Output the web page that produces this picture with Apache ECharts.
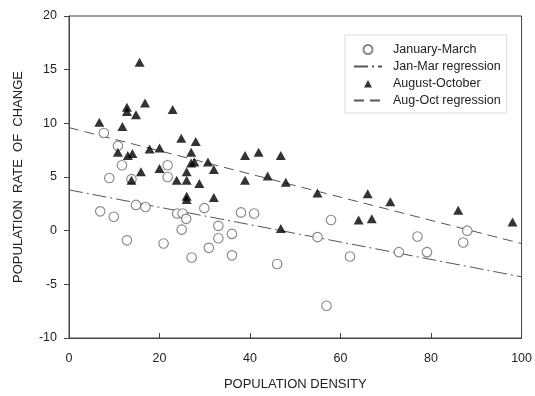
<!DOCTYPE html>
<html>
<head>
<meta charset="utf-8">
<script src="https://cdn.jsdelivr.net/npm/echarts@6/dist/echarts.min.js"></script>
<style>
  html, body { margin: 0; padding: 0; background: #fff; }
  #chart { width: 535px; height: 396px; }
</style>
</head>
<body>
<div id="chart"></div>
<script>
// values: [population density, rate of change]
const janMarPoints = [
  [7.7, 9.1], [10.8, 7.9], [11.7, 6.1], [21.8, 6.1], [8.9, 4.9], [21.8, 5.0],
  [13.8, 4.8], [6.9, 1.8], [9.9, 1.3], [14.8, 2.4], [16.9, 2.2], [23.9, 1.6],
  [25.1, 1.6], [25.9, 1.1], [29.9, 2.1], [38.0, 1.7], [40.9, 1.6], [24.9, 0.1],
  [33.0, 0.45], [33.0, -0.7], [36.0, -0.3], [12.8, -0.9], [20.9, -1.2], [30.9, -1.6],
  [36.0, -2.3], [27.1, -2.5], [46.0, -3.1], [57.9, 1.0], [54.9, -0.6], [62.1, -2.4],
  [56.9, -7.0], [72.9, -2.0], [77.0, -0.55], [79.1, -2.0], [88.0, 0.0], [87.1, -1.1]
];
const augOctPoints = [
  [15.6, 15.7], [16.8, 11.9], [12.8, 11.5], [12.8, 11.1], [14.8, 10.8], [22.9, 11.3],
  [6.7, 10.1], [11.8, 9.7], [24.8, 8.6], [28.0, 8.3], [17.8, 7.6], [20.0, 7.7],
  [10.8, 7.3], [13.0, 7.0], [14.0, 7.2], [27.0, 7.3], [27.0, 6.3], [27.7, 6.4],
  [30.7, 6.4], [32.0, 5.7], [20.0, 5.8], [15.9, 5.5], [26.0, 5.5], [13.8, 4.7],
  [23.8, 4.7], [26.0, 4.7], [28.8, 4.4], [26.0, 3.2], [26.0, 2.9], [32.0, 3.1],
  [38.9, 7.0], [41.9, 7.3], [46.8, 7.0], [38.9, 4.7], [43.9, 5.1], [47.9, 4.5],
  [54.9, 3.5], [66.0, 3.45], [71.0, 2.7], [64.0, 1.0], [66.9, 1.1], [86.0, 1.9],
  [98.0, 0.8], [46.8, 0.2]
];
// regression lines, end points at density 0 and 100
const janMarFit = [[0, 3.8], [100, -4.3]];
const augOctFit = [[0, 9.6], [100, -1.2]];

const seriesNames = ['January-March', 'Jan-Mar regression', 'August-October', 'Aug-Oct regression'];
const xTicks = { min: 0, max: 100, interval: 20 };
const yTicks = { min: -10, max: 20, interval: 5 };

const font = '"Liberation Sans", Arial, sans-serif';
const ink = '#222';
const hidden = { color: 'rgba(0,0,0,0)', borderWidth: 0, opacity: 0 };
// small triangle inside the 28x9 legend icon box (the move-tos pin the box size)
const legendTriangle = 'path://M0,0 M28,9 M14,1 L18,8.5 L10,8.5 Z';

const chart = echarts.init(document.getElementById('chart'), null, { renderer: 'canvas' });

chart.setOption({
  animation: false,
  backgroundColor: '#fff',
  textStyle: { fontFamily: font, color: ink },
  grid: {
    left: 69, right: 12, top: 16, bottom: 53,
    show: true, borderColor: '#444', borderWidth: 1, backgroundColor: 'transparent'
  },
  legend: {
    orient: 'vertical',
    left: 345, top: 35,
    width: 172,
    padding: [8, 6, 6, 8],
    borderColor: '#dadada', borderWidth: 1,
    itemWidth: 28, itemHeight: 9, itemGap: 4,
    textStyle: { fontFamily: font, fontSize: 12.5, color: ink, padding: [0, 0, 0, 6] },
    data: [
      { name: seriesNames[0], icon: 'circle' },
      { name: seriesNames[1], itemStyle: hidden },
      { name: seriesNames[2], icon: legendTriangle },
      { name: seriesNames[3], itemStyle: hidden }
    ]
  },
  xAxis: {
    type: 'value',
    min: xTicks.min, max: xTicks.max, interval: xTicks.interval,
    name: 'POPULATION DENSITY',
    nameLocation: 'middle', nameGap: 40,
    nameTextStyle: { fontFamily: font, fontSize: 13, color: ink },
    axisLine: { onZero: false, lineStyle: { color: '#444', width: 1 } },
    axisTick: { inside: true, length: 5, lineStyle: { color: '#444' } },
    axisLabel: { fontFamily: font, fontSize: 12.5, color: ink, margin: 14 },
    splitLine: { show: false }
  },
  yAxis: {
    type: 'value',
    min: yTicks.min, max: yTicks.max, interval: yTicks.interval,
    name: 'POPULATION  RATE  OF  CHANGE',
    nameLocation: 'middle', nameGap: 44, nameRotate: 90,
    nameTextStyle: { fontFamily: font, fontSize: 13, color: ink },
    axisLine: { onZero: false, lineStyle: { color: '#444', width: 1 } },
    axisTick: { inside: false, length: 5, lineStyle: { color: '#444' } },
    axisLabel: { fontFamily: font, fontSize: 12.5, color: ink, margin: 12 },
    splitLine: { show: false }
  },
  series: [
    {
      name: seriesNames[0],
      type: 'scatter',
      data: janMarPoints,
      symbol: 'circle', symbolSize: 9.5,
      itemStyle: { color: '#fff', borderColor: '#666', borderWidth: 1.1 },
      z: 3
    },
    {
      name: seriesNames[1],
      type: 'line',
      data: janMarFit,
      symbol: 'none',
      itemStyle: { color: '#555' },
      lineStyle: { color: '#555', width: 1, type: [14, 4, 2, 4] },
      z: 2
    },
    {
      name: seriesNames[2],
      type: 'scatter',
      data: augOctPoints,
      symbol: 'triangle', symbolSize: [10, 9],
      itemStyle: { color: '#000' },
      z: 4
    },
    {
      name: seriesNames[3],
      type: 'line',
      data: augOctFit,
      symbol: 'none',
      itemStyle: { color: '#555' },
      lineStyle: { color: '#555', width: 1, type: [10, 6] },
      z: 2
    }
  ]
});
</script>
</body>
</html>
